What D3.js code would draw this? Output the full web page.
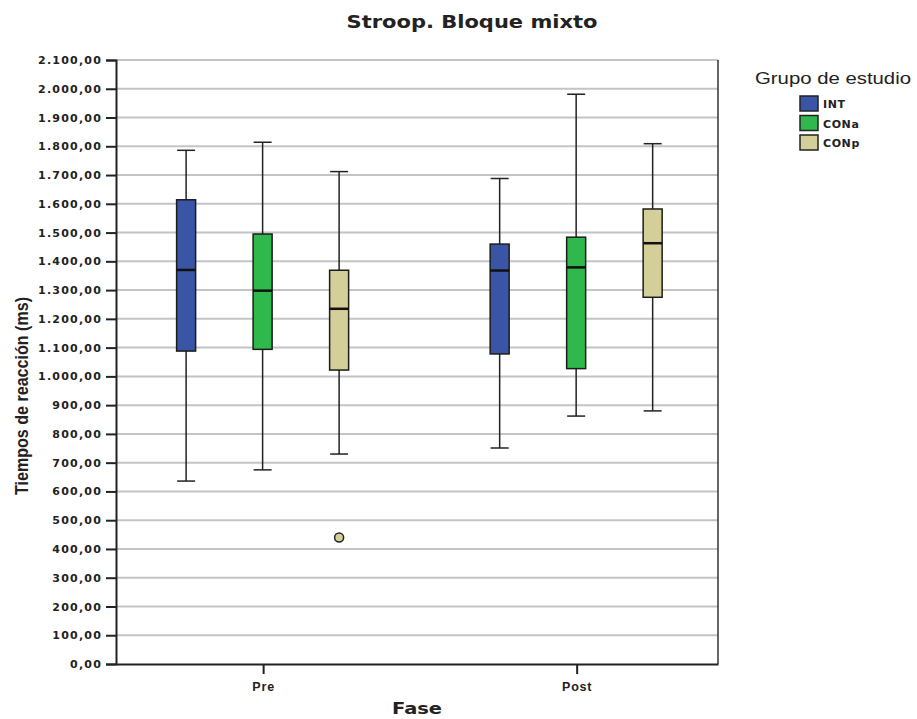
<!DOCTYPE html>
<html>
<head>
<meta charset="utf-8">
<script src="https://cdn.jsdelivr.net/npm/d3@7"></script>
<style>
  body { margin: 0; background: #fff; }
  svg { display: block; }
</style>
</head>
<body>
<svg id="chart" width="917" height="719"></svg>
<script>
// Fases y grupos
const phases = ["Pre", "Post"];
const groups = ["INT", "CONa", "CONp"];
const groupColors = ["#3a55a6", "#2fb84b", "#d4cf98"];

// Estadísticos de cada caja: [fase][grupo] -> min, q1, mediana, q3, max
const whiskerLow  = [[636, 675, 730], [751, 862, 880]];
const quartile1   = [[1088, 1094, 1022], [1078, 1027, 1275]];
const medians     = [[1370, 1298, 1235], [1368, 1379, 1463]];
const quartile3   = [[1614, 1495, 1369], [1460, 1484, 1582]];
const whiskerHigh = [[1786, 1814, 1712], [1688, 1981, 1809]];
// Valores atípicos: [fase, grupo, valor]
const outliers = [["Pre", "CONp", 440]];

const yTicks = d3.range(0, 2101, 100);
const fmt = v => d3.format(",.2f")(v).replace(/,/g, "#").replace(".", ",").replace(/#/g, ".");

const svg = d3.select("#chart");
const m = { left: 116, right: 718, top: 60, bottom: 664 };

const x = d3.scalePoint().domain(phases).range([m.left, m.right]).padding(0.46).align(0.51);
const xg = d3.scalePoint().domain(groups).range([-77, 76]);
const y = d3.scaleLinear().domain([0, 2100]).range([m.bottom, m.top]);
const boxW = 19;

// Líneas de cuadrícula
svg.append("g").selectAll("line").data(yTicks.filter(d => d > 0)).join("line")
  .attr("x1", m.left).attr("x2", m.right)
  .attr("y1", d => y(d)).attr("y2", d => y(d))
  .attr("stroke", "#c4c4c4").attr("stroke-width", 2);

// Borde derecho
svg.append("line").attr("x1", m.right).attr("x2", m.right)
  .attr("y1", m.top).attr("y2", m.bottom)
  .attr("stroke", "#333").attr("stroke-width", 1.5);

// Eje Y
const yAxis = svg.append("g").attr("transform", `translate(${m.left},0)`)
  .call(d3.axisLeft(y).tickValues(yTicks).tickFormat(fmt).tickSize(10).tickPadding(4));
yAxis.select(".domain").attr("stroke", "#222").attr("stroke-width", 2);
yAxis.selectAll(".tick line").attr("stroke", "#222").attr("stroke-width", 2);
yAxis.selectAll("text").attr("font-family", "DejaVu Sans").attr("font-weight", "bold")
  .attr("font-size", 11).attr("letter-spacing", 1.2).attr("fill", "#222");

// Eje X
const xAxis = svg.append("g").attr("transform", `translate(0,${m.bottom})`)
  .call(d3.axisBottom(x).tickSize(10).tickPadding(8).tickSizeOuter(0));
xAxis.select(".domain").attr("stroke", "#222").attr("stroke-width", 2);
xAxis.selectAll(".tick line").attr("stroke", "#222").attr("stroke-width", 2);
xAxis.selectAll("text").attr("font-family", "Liberation Sans").attr("font-weight", "bold")
  .attr("font-size", 12.5).attr("letter-spacing", 0.8).attr("fill", "#222");

// Cajas
const boxes = [];
phases.forEach((p, i) => groups.forEach((g, j) => boxes.push({
  phase: p, group: g, color: groupColors[j],
  lo: whiskerLow[i][j], q1: quartile1[i][j], med: medians[i][j],
  q3: quartile3[i][j], hi: whiskerHigh[i][j]
})));

const bx = svg.append("g").selectAll("g").data(boxes).join("g")
  .attr("transform", d => `translate(${x(d.phase) + xg(d.group)},0)`);

bx.append("line").attr("y1", d => y(d.hi)).attr("y2", d => y(d.q3))
  .attr("stroke", "#222").attr("stroke-width", 1.5);
bx.append("line").attr("y1", d => y(d.q1)).attr("y2", d => y(d.lo))
  .attr("stroke", "#222").attr("stroke-width", 1.5);
bx.append("line").attr("x1", -9).attr("x2", 9).attr("y1", d => y(d.hi)).attr("y2", d => y(d.hi))
  .attr("stroke", "#222").attr("stroke-width", 1.5);
bx.append("line").attr("x1", -9).attr("x2", 9).attr("y1", d => y(d.lo)).attr("y2", d => y(d.lo))
  .attr("stroke", "#222").attr("stroke-width", 1.5);
bx.append("rect").attr("x", -boxW / 2).attr("width", boxW)
  .attr("y", d => y(d.q3)).attr("height", d => y(d.q1) - y(d.q3))
  .attr("fill", d => d.color).attr("stroke", "#1c1c1c").attr("stroke-width", 1.5);
bx.append("line").attr("x1", -boxW / 2).attr("x2", boxW / 2)
  .attr("y1", d => y(d.med)).attr("y2", d => y(d.med))
  .attr("stroke", "#111").attr("stroke-width", 2.5);

// Atípicos
svg.append("g").selectAll("circle").data(outliers).join("circle")
  .attr("cx", d => x(d[0]) + xg(d[1]))
  .attr("cy", d => y(d[2])).attr("r", 4.5)
  .attr("fill", d => groupColors[groups.indexOf(d[1])])
  .attr("stroke", "#222").attr("stroke-width", 1.5);

// Títulos
svg.append("text").attr("x", 472).attr("y", 28).attr("text-anchor", "middle")
  .attr("font-family", "DejaVu Sans").attr("font-weight", "bold").attr("font-size", 17)
  .attr("textLength", 251).attr("lengthAdjust", "spacingAndGlyphs")
  .attr("fill", "#222").text("Stroop. Bloque mixto");
svg.append("text").attr("x", 417).attr("y", 714).attr("text-anchor", "middle")
  .attr("font-family", "DejaVu Sans").attr("font-weight", "bold").attr("font-size", 15)
  .attr("textLength", 50).attr("lengthAdjust", "spacingAndGlyphs")
  .attr("fill", "#222").text("Fase");
svg.append("text").attr("transform", "translate(28,396) rotate(-90)").attr("text-anchor", "middle")
  .attr("font-family", "Liberation Sans Narrow, Liberation Sans").attr("font-weight", "bold")
  .attr("font-size", 19).attr("textLength", 198).attr("lengthAdjust", "spacingAndGlyphs")
  .attr("fill", "#222").text("Tiempos de reacción (ms)");

// Leyenda
const lg = svg.append("g");
lg.append("text").attr("x", 755).attr("y", 84)
  .attr("font-family", "Liberation Sans").attr("font-size", 16.5).attr("fill", "#222")
  .attr("textLength", 156).attr("lengthAdjust", "spacingAndGlyphs")
  .text("Grupo de estudio");
const li = lg.selectAll("g.item").data(groups).join("g").attr("class", "item")
  .attr("transform", (d, i) => `translate(0,${96 + i * 19.5})`);
li.append("rect").attr("x", 800).attr("y", 0).attr("width", 18).attr("height", 15)
  .attr("fill", (d, i) => groupColors[i]).attr("stroke", "#222").attr("stroke-width", 1.5);
li.append("text").attr("x", 823).attr("y", 12)
  .attr("font-family", "DejaVu Sans").attr("font-weight", "bold").attr("font-size", 11)
  .attr("letter-spacing", 0.6).attr("fill", "#222").text(d => d);
</script>
</body>
</html>
